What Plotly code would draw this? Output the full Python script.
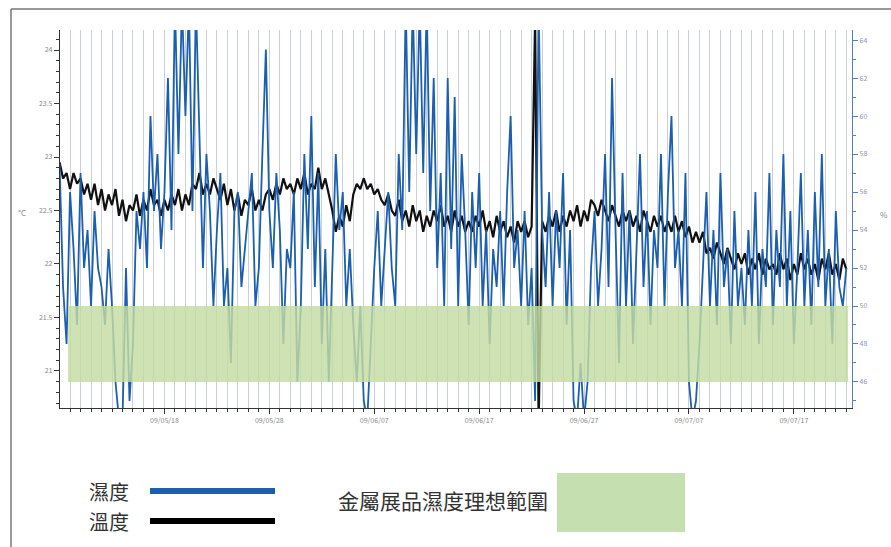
import plotly.graph_objects as go
import pandas as pd

# time axis: 3 readings per day from 2009-05-08, plus final reading
start = "2009-05-08"
humidity = [
    57.5, 51, 48,  56, 53, 49,  57, 52, 54,  50, 55, 52,  51, 49, 53,
    50, 46, 44,  44, 52, 45,  48, 55, 53,  56, 52, 60,  55, 58, 53,
    56, 62, 54,  66, 58, 66,  60, 66, 55,  66, 59, 52,  58, 55, 50,
    54, 57, 50,  52, 47, 55,  56, 51, 53,  55, 57, 50,  52, 58, 63.5,
    55, 52, 57,  54, 48, 53,  52, 56, 46,  50, 58, 53,  60, 51, 57,
    48, 53, 46,  52, 58, 54,  56, 50, 53,  49, 46, 50,  45, 44, 48,
    52, 55, 50,  53, 56, 52,  50, 58, 54,  66, 56, 66,  58, 66, 57,
    66, 55, 62,  52, 57, 50,  62, 53, 61,  50, 58, 54,  49, 56, 52,
    57, 50, 54,  48, 53, 51,  55, 50, 56,  60, 52, 54,  50, 55, 49,
    52, 45, 66,  54, 51, 56,  50, 55, 52,  57, 49, 54,  45, 44, 47,
    44, 46, 52,  55, 50, 53,  58, 51, 62,  54, 47, 57,  50, 55, 48,
    53, 58, 51,  55, 49, 54,  52, 58, 50,  56, 60, 52,  54, 50, 57,
    46, 44, 45,  48, 52, 56,  50, 54, 49,  57, 51, 53,  48, 55, 50,
    52, 49, 54,  50, 56, 48,  53, 51, 57,  49, 54, 51,  58, 50, 55,
    48, 52, 57,  50, 54, 49,  56, 51, 58,  50, 53, 48,  55, 51, 50,
    52,
]
temperature = [
    22.95, 22.8, 22.85,  22.7, 22.85, 22.75,  22.8, 22.65, 22.75,  22.6, 22.75, 22.55,  22.7, 22.5, 22.65,
    22.55, 22.7, 22.45,  22.6, 22.4, 22.55,  22.5, 22.65, 22.45,  22.6, 22.5, 22.7,  22.55, 22.6, 22.45,
    22.6, 22.5, 22.65,  22.55, 22.7, 22.5,  22.65, 22.55, 22.75,  22.7, 22.85, 22.65,  22.75, 22.65, 22.8,
    22.7, 22.6, 22.75,  22.55, 22.7, 22.5,  22.65, 22.45, 22.6,  22.55, 22.7, 22.5,  22.6, 22.5, 22.65,
    22.7, 22.6, 22.75,  22.65, 22.8, 22.7,  22.75, 22.65, 22.8,  22.7, 22.85, 22.65,  22.75, 22.7, 22.9,
    22.7, 22.8, 22.65,  22.5, 22.3, 22.45,  22.35, 22.55, 22.4,  22.65, 22.75, 22.7,  22.8, 22.7, 22.75,
    22.65, 22.7, 22.6,  22.55, 22.65, 22.5,  22.45, 22.6, 22.4,  22.5, 22.35, 22.55,  22.4, 22.5, 22.3,
    22.45, 22.35, 22.5,  22.4, 22.55, 22.35,  22.45, 22.3, 22.5,  22.35, 22.45, 22.3,  22.4, 22.3, 22.45,
    22.35, 22.5, 22.3,  22.4, 22.25, 22.45,  22.3, 22.4, 22.25,  22.35, 22.2, 22.4,  22.3, 22.4, 22.25,
    22.35, 24.3, 20.5,  22.4, 22.3, 22.45,  22.35, 22.5, 22.3,  22.45, 22.35, 22.5,  22.4, 22.55, 22.35,
    22.5, 22.4, 22.6,  22.55, 22.45, 22.6,  22.5, 22.4, 22.55,  22.45, 22.35, 22.5,  22.4, 22.5, 22.35,
    22.45, 22.3, 22.5,  22.4, 22.3, 22.45,  22.35, 22.45, 22.3,  22.4, 22.3, 22.45,  22.3, 22.4, 22.25,
    22.35, 22.2, 22.3,  22.2, 22.3, 22.1,  22.15, 22.05, 22.2,  22.1, 22.0, 22.15,  22.05, 21.95, 22.1,
    22.0, 22.1, 21.9,  22.05, 21.95, 22.1,  21.9, 22.05, 21.95,  22.0, 21.9, 22.1,  21.95, 22.05, 21.85,
    22.0, 21.9, 22.1,  21.95, 22.05, 21.9,  22.0, 21.85, 22.05,  21.95, 22.1, 21.9,  22.0, 21.85, 22.05,
    21.95,
]
times = pd.date_range(start, periods=len(humidity), freq="8h")

left_ticks = [21, 21.5, 22, 22.5, 23, 23.5, 24]
right_ticks = [46, 48, 50, 52, 54, 56, 58, 60, 62, 64]
ideal_range = [46, 50]

legend_humidity = "濕度"
legend_temperature = "溫度"
legend_range = "金屬展品濕度理想範圍"

# plot area in pixels: x 60..852, y 30..408
L, R, T, B = 60, 852, 30, 408
W, H = 891, 547
def px(x):
    return (x - L) / (R - L)
def py(y):
    return (B - y) / (B - T)

fig = go.Figure()
fig.add_trace(go.Scatter(x=times, y=humidity, yaxis="y2", mode="lines",
                         line=dict(color="#1c5fb0", width=1.8), showlegend=False))
fig.add_trace(go.Scatter(x=times, y=temperature, mode="lines",
                         line=dict(color="#111111", width=2.2), showlegend=False))

fig.update_layout(
    width=W, height=H,
    margin=dict(l=L, r=W - R, t=T, b=H - B, autoexpand=False),
    plot_bgcolor="white", paper_bgcolor="white",
    font=dict(family="Noto Sans CJK TC", size=8, color="#777"),
    xaxis=dict(
        range=["2009-05-08 01:00", "2009-07-22 13:00"],
        tick0="2009-05-18", dtick=10 * 86400000, tickformat="%y/%m/%d",
        ticks="outside", ticklen=5, tickcolor="#333",
        showgrid=True, gridcolor="#c9d0d8", gridwidth=1,
        minor=dict(dtick=86400000, ticks="outside", ticklen=3, tickcolor="#333",
                   showgrid=True, gridcolor="#c9d0d8", gridwidth=1),
        showline=True, linecolor="#333", linewidth=1.2,
        tickfont=dict(size=7, color="#888"), zeroline=False,
    ),
    yaxis=dict(
        range=[20.654, 24.187], tickvals=left_ticks,
        ticks="outside", ticklen=5, tickcolor="#333",
        minor=dict(dtick=0.1, ticks="outside", ticklen=3, tickcolor="#333"),
        showline=True, linecolor="#333", linewidth=1.2, showgrid=False,
        zeroline=False, tickfont=dict(size=7, color="#888"),
    ),
    yaxis2=dict(
        range=[44.63, 64.53], tickvals=right_ticks, overlaying="y", side="right",
        ticks="outside", ticklen=5, tickcolor="#5a7fb5",
        minor=dict(dtick=1, ticks="outside", ticklen=3, tickcolor="#5a7fb5"),
        showline=True, linecolor="#5a7fb5", linewidth=1.2, showgrid=False,
        zeroline=False, tickfont=dict(size=7, color="#8898b8"),
    ),
)

# ideal humidity band
fig.add_shape(type="rect", xref="paper", yref="y2", x0=px(68), x1=px(848),
              y0=ideal_range[0], y1=ideal_range[1], line=dict(width=0),
              fillcolor="rgba(196,220,162,0.82)", layer="above")

# outer frame (left & top)
fig.add_shape(type="line", xref="paper", yref="paper", x0=px(11), x1=px(11),
              y0=py(9), y1=py(547), line=dict(color="#777", width=1.5))
fig.add_shape(type="line", xref="paper", yref="paper", x0=px(11), x1=px(891),
              y0=py(9), y1=py(9), line=dict(color="#777", width=1.5))

def label(text, x, y, size, color="#333"):
    fig.add_annotation(text=text, xref="paper", yref="paper", x=px(x), y=py(y),
                       xanchor="center", yanchor="middle", showarrow=False,
                       font=dict(size=size, color=color))

# axis unit labels
label("°C", 22, 212, 8, "#888")
label("%", 884, 214, 8, "#888")

# custom legend
label(legend_humidity, 109, 491, 20)
label(legend_temperature, 109, 521, 20)
fig.add_shape(type="line", xref="paper", yref="paper", x0=px(150), x1=px(275),
              y0=py(491), y1=py(491), line=dict(color="#1c5fb0", width=6))
fig.add_shape(type="line", xref="paper", yref="paper", x0=px(150), x1=px(275),
              y0=py(521), y1=py(521), line=dict(color="#000000", width=6))
label(legend_range, 443, 500, 21)
fig.add_shape(type="rect", xref="paper", yref="paper", x0=px(557), x1=px(685),
              y0=py(532), y1=py(473), line=dict(width=0), fillcolor="#c6dfb0")

fig.write_html("out.html", config={"displayModeBar": False},
               post_script="document.body.style.margin='0px';document.body.style.overflow='hidden';")
